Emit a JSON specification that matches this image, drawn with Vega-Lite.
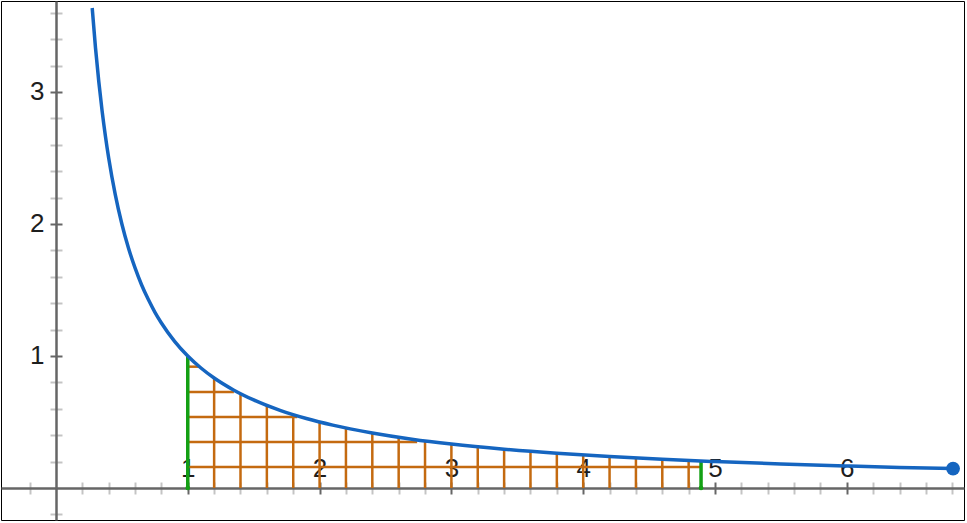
{
  "$schema": "https://vega.github.io/schema/vega-lite/v6.json",
  "width": 963,
  "height": 519,
  "padding": {"left": 1, "top": 1, "right": 3, "bottom": 3},
  "autosize": {"type": "none"},
  "background": "white",
  "config": {
    "view": {"stroke": "#000000", "strokeWidth": 1},
    "axis": {
      "grid": false,
      "title": null,
      "domain": false,
      "labelFont": "Liberation Sans",
      "labelFontSize": 26,
      "labelColor": "#1e1e1e",
      "labelOverlap": false,
      "labelFlush": false,
      "labelBound": false,
      "tickSize": 6
    }
  },
  "datasets": {
    "vert": [
      {"x": 1.2, "top": 0.833, "bottom": 0},
      {"x": 1.4, "top": 0.714, "bottom": 0},
      {"x": 1.6, "top": 0.625, "bottom": 0},
      {"x": 1.8, "top": 0.556, "bottom": 0},
      {"x": 2.0, "top": 0.5, "bottom": 0},
      {"x": 2.2, "top": 0.455, "bottom": 0},
      {"x": 2.4, "top": 0.417, "bottom": 0},
      {"x": 2.6, "top": 0.385, "bottom": 0},
      {"x": 2.8, "top": 0.357, "bottom": 0},
      {"x": 3.0, "top": 0.333, "bottom": 0},
      {"x": 3.2, "top": 0.3125, "bottom": 0},
      {"x": 3.4, "top": 0.294, "bottom": 0},
      {"x": 3.6, "top": 0.278, "bottom": 0},
      {"x": 3.8, "top": 0.263, "bottom": 0},
      {"x": 4.0, "top": 0.25, "bottom": 0},
      {"x": 4.2, "top": 0.238, "bottom": 0},
      {"x": 4.4, "top": 0.227, "bottom": 0},
      {"x": 4.6, "top": 0.217, "bottom": 0},
      {"x": 4.8, "top": 0.208, "bottom": 0}
    ],
    "horiz": [
      {"y": 0.919, "x1": 1, "x2": 1.09},
      {"y": 0.727, "x1": 1, "x2": 1.35},
      {"y": 0.538, "x1": 1, "x2": 1.83},
      {"y": 0.348, "x1": 1, "x2": 2.74},
      {"y": 0.159, "x1": 1, "x2": 4.894}
    ],
    "green": [
      {"x": 1, "top": 1, "bottom": 0},
      {"x": 4.894, "top": 0.204, "bottom": 0}
    ],
    "curve": [
      {"x": 0.275, "y": 3.636},
      {"x": 0.3, "y": 3.333},
      {"x": 0.325, "y": 3.077},
      {"x": 0.35, "y": 2.857},
      {"x": 0.375, "y": 2.667},
      {"x": 0.4, "y": 2.5},
      {"x": 0.45, "y": 2.222},
      {"x": 0.5, "y": 2.0},
      {"x": 0.55, "y": 1.818},
      {"x": 0.6, "y": 1.667},
      {"x": 0.65, "y": 1.538},
      {"x": 0.7, "y": 1.429},
      {"x": 0.75, "y": 1.333},
      {"x": 0.8, "y": 1.25},
      {"x": 0.9, "y": 1.111},
      {"x": 1.0, "y": 1.0},
      {"x": 1.1, "y": 0.909},
      {"x": 1.2, "y": 0.833},
      {"x": 1.35, "y": 0.741},
      {"x": 1.5, "y": 0.667},
      {"x": 1.7, "y": 0.588},
      {"x": 1.9, "y": 0.526},
      {"x": 2.1, "y": 0.476},
      {"x": 2.4, "y": 0.417},
      {"x": 2.7, "y": 0.37},
      {"x": 3.0, "y": 0.333},
      {"x": 3.4, "y": 0.294},
      {"x": 3.8, "y": 0.263},
      {"x": 4.2, "y": 0.238},
      {"x": 4.6, "y": 0.217},
      {"x": 5.0, "y": 0.2},
      {"x": 5.5, "y": 0.182},
      {"x": 6.0, "y": 0.167},
      {"x": 6.4, "y": 0.156},
      {"x": 6.806, "y": 0.147}
    ],
    "greendots": [
      {"x": 1, "y": 0},
      {"x": 4.894, "y": 0}
    ],
    "enddot": [
      {"x": 6.806, "y": 0.147}
    ]
  },
  "resolve": {"axis": {"x": "independent", "y": "independent"}},
  "layer": [
    {
      "data": {"name": "vert"},
      "mark": {"type": "rule", "color": "#c46a10", "strokeWidth": 2.5},
      "encoding": {
        "x": {
          "field": "x", "type": "quantitative",
          "scale": {"domain": [-0.417, 6.889], "nice": false, "zero": false},
          "axis": {"orient": "top", "offset": -487, "values": [1, 2, 3, 4, 5, 6], "tickColor": "#666666", "tickWidth": 2, "labelPadding": 6, "labelBaseline": "alphabetic"}
        },
        "y": {
          "field": "top", "type": "quantitative",
          "scale": {"domain": [-0.2424, 3.689], "nice": false, "zero": false},
          "axis": {"orient": "left", "offset": -55, "values": [1, 2, 3], "tickColor": "#666666", "tickWidth": 2, "labelPadding": 6}
        },
        "y2": {"field": "bottom"}
      }
    },
    {
      "data": {"name": "horiz"},
      "mark": {"type": "rule", "color": "#c46a10", "strokeWidth": 2.5},
      "encoding": {
        "x": {
          "field": "x1", "type": "quantitative",
          "scale": {"domain": [-0.417, 6.889], "nice": false, "zero": false},
          "axis": {"orient": "bottom", "offset": -32, "values": [1, 2, 3, 4, 5, 6], "tickColor": "#666666", "tickWidth": 2, "labels": false}
        },
        "x2": {"field": "x2"},
        "y": {
          "field": "y", "type": "quantitative",
          "scale": {"domain": [-0.2424, 3.689], "nice": false, "zero": false},
          "axis": {"orient": "right", "offset": -908, "values": [1, 2, 3], "tickColor": "#666666", "tickWidth": 2, "labels": false}
        }
      }
    },
    {
      "data": {"name": "green"},
      "mark": {"type": "rule", "color": "#14a014", "strokeWidth": 3.5},
      "encoding": {
        "x": {
          "field": "x", "type": "quantitative",
          "scale": {"domain": [-0.417, 6.889], "nice": false, "zero": false},
          "axis": {"orient": "top", "offset": -487, "values": [-0.2, 0.2, 0.4, 0.6, 0.8, 1.2, 1.4, 1.6, 1.8, 2.2, 2.4, 2.6, 2.8, 3.2, 3.4, 3.6, 3.8, 4.2, 4.4, 4.6, 4.8, 5.2, 5.4, 5.6, 5.8, 6.2, 6.4, 6.6, 6.8], "tickColor": "#c4c4c4", "tickWidth": 2, "labels": false}
        },
        "y": {
          "field": "top", "type": "quantitative",
          "scale": {"domain": [-0.2424, 3.689], "nice": false, "zero": false},
          "axis": {"orient": "left", "offset": -55, "values": [-0.2, 0.2, 0.4, 0.6, 0.8, 1.2, 1.4, 1.6, 1.8, 2.2, 2.4, 2.6, 2.8, 3.2, 3.4, 3.6], "tickColor": "#c4c4c4", "tickWidth": 2, "labels": false}
        },
        "y2": {"field": "bottom"}
      }
    },
    {
      "data": {"name": "curve"},
      "mark": {"type": "line", "color": "#1565c0", "strokeWidth": 3.5, "interpolate": "monotone", "clip": true},
      "encoding": {
        "x": {
          "field": "x", "type": "quantitative",
          "scale": {"domain": [-0.417, 6.889], "nice": false, "zero": false},
          "axis": {"orient": "bottom", "offset": -32, "values": [-0.2, 0.2, 0.4, 0.6, 0.8, 1.2, 1.4, 1.6, 1.8, 2.2, 2.4, 2.6, 2.8, 3.2, 3.4, 3.6, 3.8, 4.2, 4.4, 4.6, 4.8, 5.2, 5.4, 5.6, 5.8, 6.2, 6.4, 6.6, 6.8], "tickColor": "#c4c4c4", "tickWidth": 2, "labels": false, "domain": true, "domainColor": "#666666", "domainWidth": 2.5}
        },
        "y": {
          "field": "y", "type": "quantitative",
          "scale": {"domain": [-0.2424, 3.689], "nice": false, "zero": false},
          "axis": {"orient": "right", "offset": -908, "values": [-0.2, 0.2, 0.4, 0.6, 0.8, 1.2, 1.4, 1.6, 1.8, 2.2, 2.4, 2.6, 2.8, 3.2, 3.4, 3.6], "tickColor": "#c4c4c4", "tickWidth": 2, "labels": false, "domain": true, "domainColor": "#666666", "domainWidth": 2.5}
        }
      }
    },
    {
      "data": {"name": "greendots"},
      "mark": {"type": "point", "filled": true, "color": "#14a014", "size": 22, "opacity": 1},
      "encoding": {
        "x": {"field": "x", "type": "quantitative", "scale": {"domain": [-0.417, 6.889], "nice": false, "zero": false}, "axis": null},
        "y": {"field": "y", "type": "quantitative", "scale": {"domain": [-0.2424, 3.689], "nice": false, "zero": false}, "axis": null}
      }
    },
    {
      "data": {"name": "enddot"},
      "mark": {"type": "point", "filled": true, "color": "#1565c0", "size": 190, "opacity": 1},
      "encoding": {
        "x": {"field": "x", "type": "quantitative", "scale": {"domain": [-0.417, 6.889], "nice": false, "zero": false}, "axis": null},
        "y": {"field": "y", "type": "quantitative", "scale": {"domain": [-0.2424, 3.689], "nice": false, "zero": false}, "axis": null}
      }
    }
  ]
}
